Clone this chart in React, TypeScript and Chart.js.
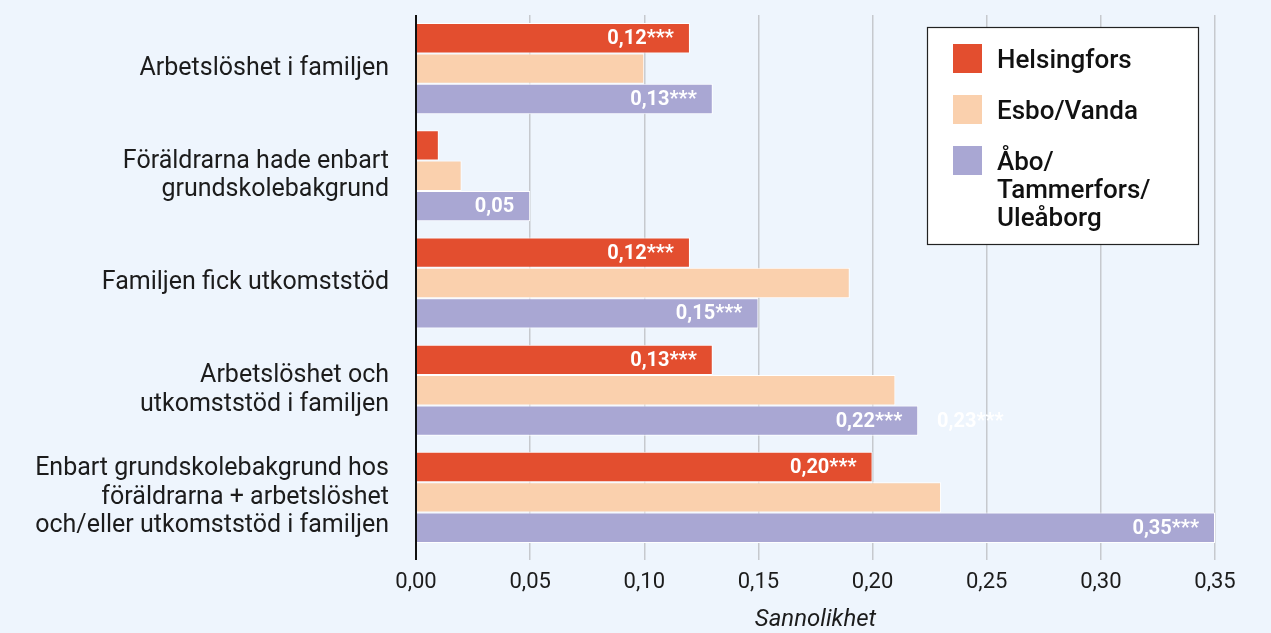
import { useEffect, useRef } from "react";
import { Chart, registerables } from "chart.js";

Chart.register(...registerables);

const categories: (string | string[])[] = [
  "Arbetslöshet i familjen",
  ["Föräldrarna hade enbart", "grundskolebakgrund"],
  "Familjen fick utkomststöd",
  ["Arbetslöshet och", "utkomststöd i familjen"],
  ["Enbart grundskolebakgrund hos", "föräldrarna + arbetslöshet", "och/eller utkomststöd i familjen"],
];

const seriesNames: string[][] = [["Helsingfors"], ["Esbo/Vanda"], ["Åbo/", "Tammerfors/", "Uleåborg"]];
const seriesColors = ["#E34E2F", "#FAD0AD", "#A9A7D3"];

const helsingfors = [0.12, 0.01, 0.12, 0.13, 0.2];
const esboVanda = [0.1, 0.02, 0.19, 0.21, 0.23];
const aboTammerforsUleaborg = [0.13, 0.05, 0.15, 0.22, 0.35];

const helsingforsLabels = ["0,12***", "", "0,12***", "0,13***", "0,20***"];
const esboVandaLabels = ["", "", "", "", ""];
const aboLabels = ["0,13***", "0,05", "0,15***", "0,22***", "0,35***"];

// a stray value label that sits outside the bars in the original
const strayLabels = [{ category: 3, series: 2, value: 0.23, text: "0,23***" }];

const xMin = 0;
const xMax = 0.35;
const xStep = 0.05;
const axisTitle = "Sannolikhet";

const FONT = "Roboto, 'Noto Sans', sans-serif";

export default function App() {
  const ref = useRef<HTMLCanvasElement | null>(null);

  useEffect(() => {
    let chart: Chart | null = null;
    let cancelled = false;

    const valueLabelPlugin = {
      id: "valueLabels",
      afterDatasetsDraw(c: any) {
        const ctx = c.ctx;
        ctx.save();
        ctx.font = `700 20px ${FONT}`;
        ctx.fillStyle = "#ffffff";
        ctx.textBaseline = "middle";
        ctx.textAlign = "right";
        c.data.datasets.forEach((ds: any, i: number) => {
          const meta = c.getDatasetMeta(i);
          meta.data.forEach((bar: any, j: number) => {
            const t = ds.valueLabels[j];
            if (t) ctx.fillText(t, bar.x - 16, bar.y + 1);
          });
        });
        ctx.textAlign = "left";
        strayLabels.forEach((s) => {
          const bar = c.getDatasetMeta(s.series).data[s.category];
          const x = c.scales.x.getPixelForValue(s.value) - 4;
          ctx.fillText(s.text, x, bar.y + 1);
        });
        ctx.restore();
      },
    };

    const legendPlugin = {
      id: "boxLegend",
      afterDraw(c: any) {
        const ctx = c.ctx;
        const area = c.chartArea;
        const w = 271;
        const h = 217;
        const x0 = area.right - 17 - w;
        const y0 = area.top + 12;
        ctx.save();
        ctx.fillStyle = "#ffffff";
        ctx.fillRect(x0, y0, w, h);
        ctx.strokeStyle = "#222222";
        ctx.lineWidth = 1.2;
        ctx.strokeRect(x0 + 0.5, y0 + 0.5, w, h);
        ctx.font = `500 26px ${FONT}`;
        ctx.textAlign = "left";
        ctx.textBaseline = "middle";
        seriesNames.forEach((lines, i) => {
          const sy = y0 + 17 + i * 51;
          ctx.fillStyle = seriesColors[i];
          ctx.fillRect(x0 + 26, sy, 29, 29);
          ctx.fillStyle = "#111111";
          lines.forEach((ln, k) => {
            ctx.fillText(ln, x0 + 70, sy + 17 + k * 28);
          });
        });
        ctx.restore();
      },
    };

    const build = () => {
      if (cancelled || !ref.current) return;
      chart = new Chart(ref.current, {
        type: "bar",
        data: {
          labels: categories as any,
          datasets: [
            { label: seriesNames[0].join(""), data: helsingfors, backgroundColor: seriesColors[0], valueLabels: helsingforsLabels } as any,
            { label: seriesNames[1].join(""), data: esboVanda, backgroundColor: seriesColors[1], valueLabels: esboVandaLabels } as any,
            { label: seriesNames[2].join(""), data: aboTammerforsUleaborg, backgroundColor: seriesColors[2], valueLabels: aboLabels } as any,
          ].map((d: any) => ({
            ...d,
            borderColor: "#ffffff",
            borderWidth: 1,
            categoryPercentage: 0.85,
            barPercentage: 1,
          })),
        },
        options: {
          indexAxis: "y",
          animation: false,
          responsive: true,
          maintainAspectRatio: false,
          layout: { padding: { top: 15, right: 56, bottom: 0, left: 0 } },
          plugins: {
            legend: { display: false },
            tooltip: { enabled: false },
          },
          scales: {
            x: {
              min: xMin,
              max: xMax,
              afterFit(scale: any) {
                scale.height = 82;
                scale.paddingLeft = 0;
                scale.paddingRight = 0;
              },
              ticks: {
                stepSize: xStep,
                padding: 9,
                color: "#1c1c1c",
                font: { family: FONT, size: 22 },
                callback: (v: any) => Number(v).toFixed(2).replace(".", ","),
              },
              grid: {
                color: (ctx: any) => (ctx.tick && ctx.tick.value === 0 ? "#111111" : "#c6c9ce"),
                lineWidth: (ctx: any) => (ctx.tick && ctx.tick.value === 0 ? 2 : 1.5),
                tickLength: 9,
              },
              border: { display: false },
              title: {
                display: true,
                text: axisTitle,
                color: "#1c1c1c",
                font: { family: FONT, size: 24, style: "italic", lineHeight: 1.05 },
                padding: { top: 0, bottom: 0 },
              },
            },
            y: {
              afterFit(scale: any) {
                scale.width = 416;
                scale.paddingTop = 0;
                scale.paddingBottom = 0;
              },
              grid: { display: false, drawTicks: false },
              border: { display: false },
              ticks: {
                padding: 27,
                color: "#1c1c1c",
                font: { family: FONT, size: 25, lineHeight: 1.13 },
              },
            },
          },
        } as any,
        plugins: [valueLabelPlugin, legendPlugin],
      });
    };

    const fontsReady = (document as any).fonts
      ? Promise.all([
          (document as any).fonts.load(`400 25px Roboto`),
          (document as any).fonts.load(`500 26px Roboto`),
          (document as any).fonts.load(`700 20px Roboto`),
          (document as any).fonts.load(`italic 24px Roboto`),
        ]).catch(() => null)
      : Promise.resolve(null);
    fontsReady.then(build);

    return () => {
      cancelled = true;
      if (chart) chart.destroy();
    };
  }, []);

  return (
    <div
      style={{
        position: "absolute",
        left: 0,
        top: 0,
        width: 1271,
        height: 633,
        background: "#EEF5FD",
      }}
    >
      <canvas ref={ref} />
    </div>
  );
}
